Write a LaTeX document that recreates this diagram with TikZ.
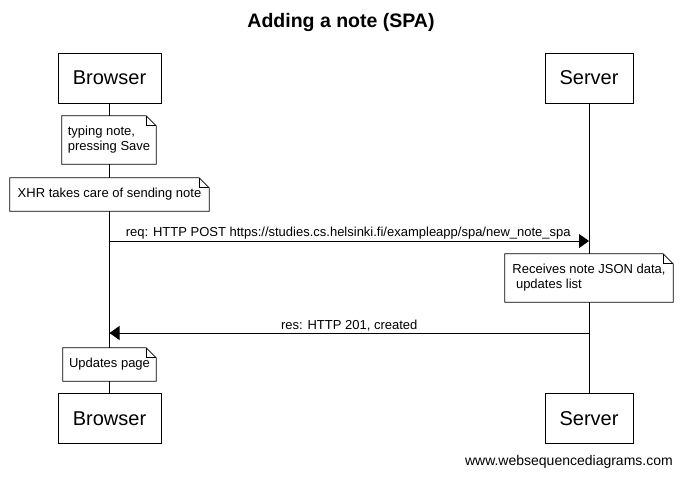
\documentclass[tikz,border=0pt]{standalone}
\usepackage{fontspec}
\setmainfont{Liberation Sans}
\usetikzlibrary{arrows.meta}
\newcommand\foldnote[1]{%
  \draw[line width=0.7pt] (#1.north west) -- ([xshift=-10pt]#1.north east) -- ([yshift=-10pt]#1.north east) -- (#1.south east) -- (#1.south west) -- cycle;
  \draw[line width=0.7pt] ([xshift=-10pt]#1.north east) |- ([yshift=-10pt]#1.north east);}
\begin{document}
\begin{tikzpicture}[x=1pt,y=-1pt,
  participant/.style={draw, line width=0.8pt, minimum height=50pt, inner sep=0pt, font=\fontsize{20}{24}\selectfont},
  notebox/.style={fill=white, inner sep=0pt, align=left, font=\fontsize{13}{15}\selectfont},
  msg/.style={line width=0.8pt, -{Triangle[length=10pt,width=14pt]}},
  lbl/.style={font=\fontsize{13}{15}\selectfont, inner sep=1.5pt}]
\useasboundingbox (0,0) rectangle (682,477);
\node[font=\bfseries\fontsize{19.5}{22}\selectfont] (title) at (341,22) {Adding a note (SPA)};
\node[participant, minimum width=103pt] (bt) at (109.5,78) {Browser};
\node[participant, minimum width=88pt] (st) at (589,78) {Server};
\node[participant, minimum width=103pt] (bb) at (109.5,418.5) {Browser};
\node[participant, minimum width=88pt] (sb) at (589,418.5) {Server};
\draw[line width=0.7pt] (bt.south) -- (bb.north);
\draw[line width=0.7pt] (st.south) -- (sb.north);
\node[notebox, minimum width=94pt, minimum height=48pt] (n1) at (109,140) {typing note,\\pressing Save};
\foldnote{n1}
\node[notebox, minimum width=199pt, minimum height=33pt] (n2) at (109.5,194.5) {XHR takes care of sending note};
\foldnote{n2}
\coordinate (q1) at (109.5,241);
\coordinate (q2) at (589,241);
\draw[msg] (q1) -- node[lbl, above, xshift=-1pt] {req: HTTP POST https://studies.cs.helsinki.fi/exampleapp/spa/new\_note\_spa} (q2);
\node[notebox, minimum width=168pt, minimum height=48pt] (n3) at (589,278) {Receives note JSON data,\\\ updates list};
\foldnote{n3}
\coordinate (p1) at (589,333);
\coordinate (p2) at (109.5,333);
\draw[msg] (p1) -- node[lbl, above] {res: HTTP 201, created} (p2);
\node[notebox, minimum width=93pt, minimum height=33pt] (n4) at (109.5,364.5) {Updates page};
\foldnote{n4}
\node[anchor=east, font=\fontsize{14}{16}\selectfont, inner sep=0pt] (foot) at (673,462) {www.websequencediagrams.com};
\end{tikzpicture}
\end{document}
